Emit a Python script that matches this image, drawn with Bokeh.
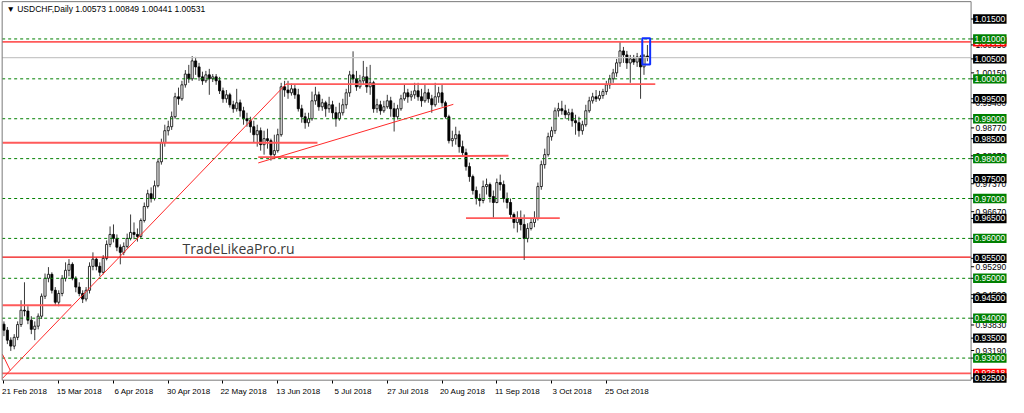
from bokeh.plotting import figure
from bokeh.models import FixedTicker, Range1d
from bokeh.core.properties import value
from bokeh.embed import file_html
from bokeh.resources import INLINE

# ---------------- data ----------------
first_open = 0.9385
close = [
    0.9370, 0.9345, 0.9330, 0.9352, 0.9384, 0.9420, 0.9418, 0.9395, 0.9372, 0.9380,
    0.9405, 0.9455, 0.9500, 0.9510, 0.9470, 0.9440, 0.9462, 0.9500, 0.9520, 0.9535,
    0.9500, 0.9478, 0.9462, 0.9448, 0.9470, 0.9530, 0.9548, 0.9530, 0.9515, 0.9550,
    0.9585, 0.9610, 0.9600, 0.9578, 0.9565, 0.9580, 0.9600, 0.9615, 0.9610, 0.9605,
    0.9645, 0.9680, 0.9712, 0.9700, 0.9732, 0.9792, 0.9840, 0.9870, 0.9880, 0.9905,
    0.9955, 0.9950, 0.9985, 1.0012, 1.0000, 1.0045, 1.0030, 1.0005, 0.9995, 1.0010,
    1.0000, 1.0005, 0.9995, 0.9970, 0.9950, 0.9960, 0.9935, 0.9925, 0.9940, 0.9920,
    0.9900, 0.9895, 0.9880, 0.9860, 0.9870, 0.9835, 0.9850, 0.9845, 0.9810, 0.9820,
    0.9860, 0.9980, 0.9972, 0.9965, 0.9975, 0.9960, 0.9925, 0.9905, 0.9890, 0.9900,
    0.9945, 0.9960, 0.9930, 0.9940, 0.9925, 0.9935, 0.9915, 0.9900, 0.9915, 0.9935,
    0.9965, 1.0010, 1.0000, 0.9980, 0.9995, 1.0005, 0.9980, 0.9990, 0.9925, 0.9935,
    0.9920, 0.9930, 0.9945, 0.9925, 0.9905, 0.9925, 0.9950, 0.9965, 0.9955, 0.9960,
    0.9970, 0.9955, 0.9945, 0.9965, 0.9950, 0.9935, 0.9955, 0.9965, 0.9940, 0.9905,
    0.9845, 0.9850, 0.9860, 0.9830, 0.9815, 0.9780, 0.9755, 0.9720, 0.9700, 0.9695,
    0.9730, 0.9735, 0.9705, 0.9690, 0.9740, 0.9735, 0.9700, 0.9690, 0.9660, 0.9640,
    0.9650, 0.9635, 0.9600, 0.9625, 0.9640, 0.9650, 0.9730, 0.9785, 0.9810, 0.9855,
    0.9870, 0.9920, 0.9925, 0.9920, 0.9910, 0.9915, 0.9895, 0.9890, 0.9870, 0.9885,
    0.9920, 0.9945, 0.9955, 0.9950, 0.9958, 0.9968, 0.9985, 1.0000, 1.0015, 1.0040,
    1.0070, 1.0060, 1.0040, 1.0050, 1.0042, 1.0055, 1.0030, 1.00573, 1.00531]
high = [
    0.9392, 0.9378, 0.9352, 0.9360, 0.9392, 0.9445, 0.9490, 0.9430, 0.9405, 0.9392,
    0.9412, 0.9462, 0.9512, 0.9528, 0.9515, 0.9478, 0.9470, 0.9508, 0.9540, 0.9548,
    0.9540, 0.9505, 0.9490, 0.9470, 0.9478, 0.9540, 0.9565, 0.9552, 0.9540, 0.9558,
    0.9595, 0.9630, 0.9635, 0.9610, 0.9585, 0.9590, 0.9612, 0.9660, 0.9640, 0.9625,
    0.9650, 0.9690, 0.9722, 0.9728, 0.9745, 0.9800, 0.9850, 0.9885, 0.9895, 0.9918,
    0.9965, 0.9978, 0.9995, 1.0022, 1.0035, 1.0057, 1.0055, 1.0040, 1.0018, 1.0020,
    1.0025, 1.0012, 1.0012, 1.0005, 0.9978, 0.9972, 0.9965, 0.9945, 0.9975, 0.9948,
    0.9930, 0.9915, 0.9905, 0.9895, 0.9885, 0.9878, 0.9870, 0.9875, 0.9850, 0.9860,
    0.9875, 0.9990, 0.9995, 0.9995, 0.9988, 0.9985, 0.9975, 0.9935, 0.9915, 0.9915,
    0.9968, 0.9980, 0.9968, 0.9950, 0.9945, 0.9955, 0.9945, 0.9930, 0.9940, 0.9950,
    0.9975, 1.0020, 1.0069, 1.0020, 1.0010, 1.0045, 1.0030, 1.0035, 0.9995, 0.9950,
    0.9945, 0.9945, 0.9960, 0.9955, 0.9940, 0.9935, 0.9960, 0.9985, 0.9975, 0.9970,
    0.9990, 0.9990, 0.9975, 0.9985, 0.9975, 0.9960, 0.9990, 0.9980, 0.9985, 0.9945,
    0.9910, 0.9870, 0.9880, 0.9870, 0.9845, 0.9825, 0.9790, 0.9760, 0.9730, 0.9712,
    0.9745, 0.9750, 0.9740, 0.9720, 0.9750, 0.9760, 0.9745, 0.9715, 0.9700, 0.9665,
    0.9668, 0.9670, 0.9660, 0.9638, 0.9650, 0.9668, 0.9740, 0.9795, 0.9825, 0.9865,
    0.9880, 0.9928, 0.9940, 0.9945, 0.9935, 0.9925, 0.9925, 0.9910, 0.9905, 0.9895,
    0.9935, 0.9955, 0.9965, 0.9972, 0.9970, 0.9975, 0.9995, 1.0010, 1.0025, 1.0050,
    1.0093, 1.0080, 1.0070, 1.0060, 1.0060, 1.0065, 1.0060, 1.0062, 1.00849]
low = [
    0.9355, 0.9335, 0.9318, 0.9322, 0.9345, 0.9378, 0.9405, 0.9385, 0.9360, 0.9345,
    0.9372, 0.9398, 0.9448, 0.9490, 0.9462, 0.9432, 0.9430, 0.9455, 0.9492, 0.9505,
    0.9495, 0.9465, 0.9455, 0.9438, 0.9442, 0.9462, 0.9520, 0.9520, 0.9505, 0.9510,
    0.9545, 0.9578, 0.9590, 0.9568, 0.9535, 0.9558, 0.9575, 0.9595, 0.9598, 0.9592,
    0.9600, 0.9640, 0.9675, 0.9690, 0.9695, 0.9728, 0.9785, 0.9830, 0.9858, 0.9872,
    0.9900, 0.9935, 0.9945, 0.9978, 0.9990, 0.9995, 1.0010, 0.9995, 0.9985, 0.9990,
    0.9960, 0.9992, 0.9985, 0.9962, 0.9940, 0.9940, 0.9928, 0.9915, 0.9918, 0.9905,
    0.9885, 0.9880, 0.9865, 0.9840, 0.9830, 0.9820, 0.9810, 0.9825, 0.9795, 0.9800,
    0.9815, 0.9855, 0.9955, 0.9950, 0.9958, 0.9950, 0.9918, 0.9890, 0.9875, 0.9880,
    0.9895, 0.9935, 0.9920, 0.9920, 0.9905, 0.9915, 0.9900, 0.9880, 0.9895, 0.9908,
    0.9925, 0.9955, 0.9990, 0.9970, 0.9975, 0.9985, 0.9965, 0.9960, 0.9915, 0.9915,
    0.9910, 0.9915, 0.9925, 0.9905, 0.9868, 0.9898, 0.9920, 0.9945, 0.9940, 0.9945,
    0.9950, 0.9945, 0.9930, 0.9940, 0.9940, 0.9915, 0.9930, 0.9940, 0.9930, 0.9900,
    0.9838, 0.9830, 0.9835, 0.9815, 0.9805, 0.9770, 0.9742, 0.9710, 0.9685, 0.9680,
    0.9688, 0.9710, 0.9690, 0.9652, 0.9688, 0.9720, 0.9690, 0.9675, 0.9650, 0.9625,
    0.9615, 0.9620, 0.9546, 0.9590, 0.9620, 0.9628, 0.9645, 0.9722, 0.9775, 0.9805,
    0.9845, 0.9862, 0.9905, 0.9910, 0.9900, 0.9895, 0.9880, 0.9860, 0.9855, 0.9860,
    0.9880, 0.9915, 0.9938, 0.9942, 0.9945, 0.9950, 0.9960, 0.9975, 0.9990, 1.0005,
    1.0030, 1.0040, 1.0025, 0.9990, 1.0035, 1.0030, 0.9950, 1.0010, 1.00441]

date_bars = [0, 16, 32, 48, 64, 80, 96, 112, 128, 144, 160, 176]
date_labels = ["21 Feb 2018", "15 Mar 2018", "6 Apr 2018", "30 Apr 2018", "22 May 2018",
               "13 Jun 2018", "5 Jul 2018", "27 Jul 2018", "20 Aug 2018", "11 Sep 2018",
               "3 Oct 2018", "25 Oct 2018"]

green_levels = [1.01, 1.00, 0.99, 0.98, 0.97, 0.96, 0.95, 0.94, 0.93]
black_levels = [1.015, 1.005, 0.995, 0.985, 0.975, 0.965, 0.955, 0.945, 0.935, 0.925]
scale_ticks = [1.0085, 1.0015, 0.9940, 0.9877, 0.9807, 0.9737, 0.9667, 0.9529, 0.9459, 0.9383, 0.9319]

red_full_levels = [1.00928, 0.95530, 0.92618]
bid_price = 1.00531

# horizontal red segments: start bar, end bar, start price, end price
hseg_x0 = [82.4, -0.4, 74.3, 135.0, -0.4]
hseg_x1 = [190.3, 91.6, 147.4, 162.4, 19.7]
hseg_y0 = [0.99867, 0.98398, 0.98036, 0.96510, 0.94325]
hseg_y1 = [0.99867, 0.98398, 0.98072, 0.96510, 0.94325]

# trend lines
trend_x0 = [-0.4, -0.45, 74.3]
trend_x1 = [82.4, 1.87, 131.3]
trend_y0 = [0.92494, 0.93096, 0.97892]
trend_y1 = [0.99867, 0.92687, 0.99361]

# blue box around last bar
box_bars = [186.5, 188.8]
box_prices = [1.00357, 1.01017]

title_text = "\u25bc USDCHF,Daily  1.00573 1.00849 1.00441 1.00531"
watermark = "TradeLikeaPro.ru"

# ---------------- layout constants ----------------
LEFT_EDGE = -0.52      # chart border (bar units)
RIGHT_EDGE = 282.57
BOTTOM_EDGE = 0.92446
TOP_EDGE = 1.01935
LABEL_X = 288.04
LABEL_W = 9.78
LABEL_H = 0.00235
FONT = "Liberation Sans"

n = len(close)
idx = list(range(n))
opens = [first_open] + close[:-1]
bull = [c >= o for o, c in zip(opens, close)]

p = figure(width=1008, height=397, output_backend="svg", toolbar_location=None,
           x_range=Range1d(-1.007, 293.5), y_range=Range1d(0.920120, 1.019639),
           y_axis_location=None, min_border_left=0, min_border_right=0,
           min_border_top=0, min_border_bottom=0)
p.grid.visible = False
p.outline_line_color = None
p.background_fill_color = "white"
p.border_fill_color = "white"

ax = p.xaxis[0]
ax.fixed_location = BOTTOM_EDGE
ax.ticker = FixedTicker(ticks=[b + 6 for b in date_bars], minor_ticks=date_bars)
ax.major_label_overrides = {b + 6: lab for b, lab in zip(date_bars, date_labels)}
ax.major_tick_in = 0
ax.major_tick_out = 0
ax.minor_tick_in = 0
ax.minor_tick_out = 3
ax.minor_tick_line_color = "black"
ax.axis_line_color = None
ax.major_label_standoff = 4
ax.major_label_text_font = FONT
ax.major_label_text_font_size = "8px"
ax.major_label_text_color = "black"

# candles
p.segment(x0=idx, y0=low, x1=idx, y1=high, line_color="#3a3a3a", line_width=1)
bi = [i for i in idx if bull[i]]
si = [i for i in idx if not bull[i]]
p.vbar(x=bi, width=0.62, top=[close[i] for i in bi], bottom=[opens[i] for i in bi],
       fill_color="white", line_color="black", line_width=0.8)
p.vbar(x=si, width=0.62, top=[opens[i] for i in si], bottom=[close[i] for i in si],
       fill_color="black", line_color="black", line_width=0.8)

# level lines
p.segment(x0=[LEFT_EDGE] * len(green_levels), x1=[RIGHT_EDGE] * len(green_levels),
          y0=green_levels, y1=green_levels, line_color="#008000", line_width=1, line_dash="3 3")
p.segment(x0=[LEFT_EDGE], x1=[RIGHT_EDGE], y0=[bid_price], y1=[bid_price],
          line_color="#c8c8c8", line_width=1.2)
p.segment(x0=[LEFT_EDGE] * 2, x1=[RIGHT_EDGE] * 2, y0=[red_full_levels[0], red_full_levels[2]],
          y1=[red_full_levels[0], red_full_levels[2]], line_color="#ff5a5a", line_width=1.8)
p.segment(x0=[LEFT_EDGE], x1=[RIGHT_EDGE], y0=[red_full_levels[1]], y1=[red_full_levels[1]],
          line_color="#f01010", line_width=1.2)
p.segment(x0=hseg_x0, x1=hseg_x1, y0=hseg_y0, y1=hseg_y1, line_color="#ff5a5a", line_width=1.8)
p.segment(x0=trend_x0, x1=trend_x1, y0=trend_y0, y1=trend_y1, line_color="#ff2a2a", line_width=1)
p.quad(left=[box_bars[0]], right=[box_bars[1]], bottom=[box_prices[0]], top=[box_prices[1]],
       fill_color=None, line_color="#1030ff", line_width=2)

# chart border
p.segment(x0=[LEFT_EDGE, RIGHT_EDGE, LEFT_EDGE, LEFT_EDGE],
          x1=[LEFT_EDGE, RIGHT_EDGE, RIGHT_EDGE, RIGHT_EDGE],
          y0=[BOTTOM_EDGE, BOTTOM_EDGE, BOTTOM_EDGE, TOP_EDGE],
          y1=[TOP_EDGE, TOP_EDGE, BOTTOM_EDGE, TOP_EDGE],
          line_color="#7a7a7a", line_width=1)

# texts
p.text(x=[0.72], y=[1.01750], text=[title_text], text_align="left", text_baseline="middle",
       text_font=value(FONT), text_font_size="8.5px", text_color="black")
p.text(x=[52.2], y=[0.95747], text=[watermark], text_align="left", text_baseline="middle",
       text_font=value("Open Sans"), text_font_size="14px", text_color="#3c3c3c")

# right price scale
all_ticks = scale_ticks + green_levels + black_levels
p.segment(x0=[RIGHT_EDGE] * len(all_ticks), x1=[RIGHT_EDGE + 0.9] * len(all_ticks),
          y0=all_ticks, y1=all_ticks, line_color="black", line_width=1)
p.text(x=[LABEL_X + 0.3] * len(scale_ticks), y=scale_ticks, text=["%.5f" % v for v in scale_ticks],
       text_align="center", text_baseline="middle", text_font=value(FONT),
       text_font_size="8.5px", text_color="black")
p.rect(x=[LABEL_X] * 2, y=[red_full_levels[0], red_full_levels[2]], width=LABEL_W, height=LABEL_H,
       fill_color="#ff0000", line_color=None)
p.text(x=[LABEL_X] * 2, y=[red_full_levels[0], red_full_levels[2]],
       text=["%.5f" % red_full_levels[0], "%.5f" % red_full_levels[2]],
       text_align="center", text_baseline="middle", text_font=value(FONT),
       text_font_size="8.5px", text_color="white")
p.rect(x=[LABEL_X] * len(black_levels), y=black_levels, width=LABEL_W, height=LABEL_H,
       fill_color="black", line_color=None)
p.text(x=[LABEL_X] * len(black_levels), y=black_levels, text=["%.5f" % v for v in black_levels],
       text_align="center", text_baseline="middle", text_font=value(FONT),
       text_font_size="8.5px", text_color="white")
p.rect(x=[LABEL_X] * len(green_levels), y=green_levels, width=LABEL_W, height=LABEL_H,
       fill_color="#008000", line_color=None)
p.text(x=[LABEL_X] * len(green_levels), y=green_levels, text=["%.5f" % v for v in green_levels],
       text_align="center", text_baseline="middle", text_font=value(FONT),
       text_font_size="8.5px", text_color="white")

open("out.html", "w").write(file_html(p, INLINE))
